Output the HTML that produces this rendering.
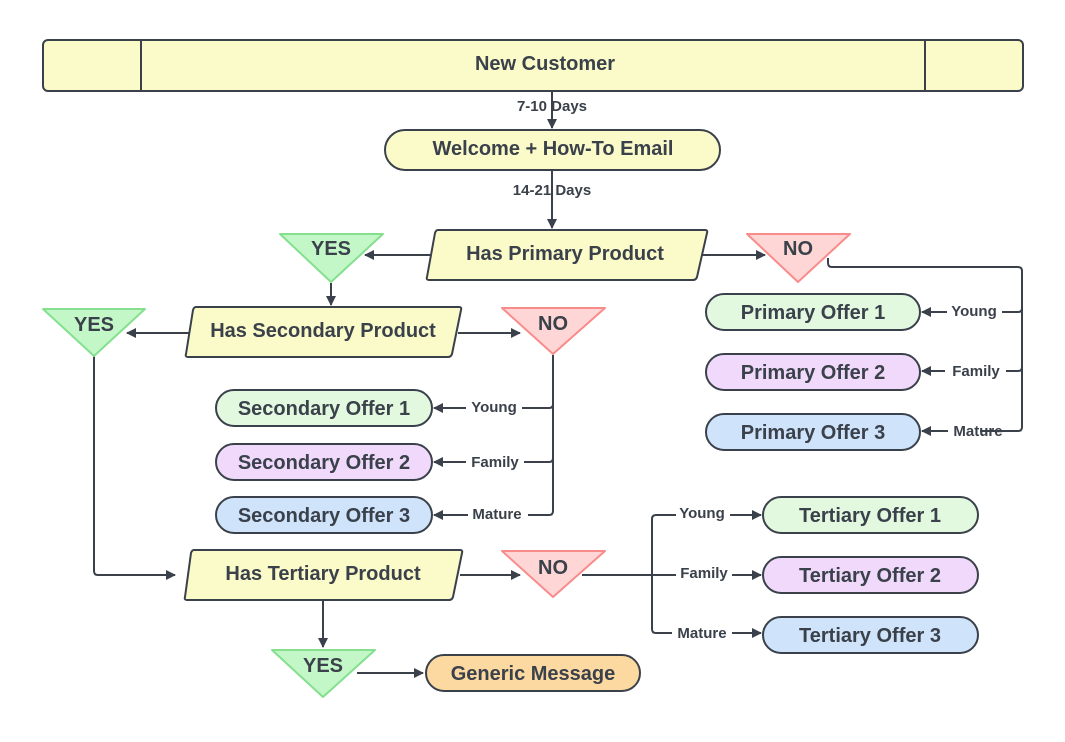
<!DOCTYPE html>
<html><head><meta charset="utf-8"><style>
html,body{margin:0;padding:0;background:#fff;}
svg text{font-family:"Liberation Sans",Arial,sans-serif;font-weight:bold;fill:#3a414a;}
</style></head><body>
<svg width="1065" height="737" viewBox="0 0 1065 737" xmlns="http://www.w3.org/2000/svg">
<defs>
<marker id="a" markerWidth="10" markerHeight="10" refX="9" refY="5" orient="auto" markerUnits="userSpaceOnUse">
<path d="M0,0 L10,5 L0,10 Z" fill="#3a414a"/></marker>
</defs>
<g stroke="#3a414a" stroke-width="2" fill="none">
<!-- connectors -->
<path d="M552,92 V128" marker-end="url(#a)"/>
<path d="M552,171 V228" marker-end="url(#a)"/>
<path d="M430,255 H365" marker-end="url(#a)"/>
<path d="M700,255 H765" marker-end="url(#a)"/>
<path d="M828,258 V263 Q828,267 832,267 H1018 Q1022,267 1022,271 V427 Q1022,431 1018,431 H980"/>
<path d="M1022,308 Q1022,312 1018,312 H1002"/>
<path d="M1022,367 Q1022,371 1018,371 H1006"/>
<path d="M947,312 H922" marker-end="url(#a)"/>
<path d="M945,371 H922" marker-end="url(#a)"/>
<path d="M948,431 H922" marker-end="url(#a)"/>
<path d="M331,283 V305" marker-end="url(#a)"/>
<path d="M190,333 H127" marker-end="url(#a)"/>
<path d="M458,333 H520" marker-end="url(#a)"/>
<path d="M553,355 V511 Q553,515 549,515 H528"/>
<path d="M553,404 Q553,408 549,408 H522"/>
<path d="M553,458 Q553,462 549,462 H524"/>
<path d="M466,408 H434" marker-end="url(#a)"/>
<path d="M466,462 H434" marker-end="url(#a)"/>
<path d="M468,515 H434" marker-end="url(#a)"/>
<path d="M94,356 V571 Q94,575 98,575 H175" marker-end="url(#a)"/>
<path d="M460,575 H520" marker-end="url(#a)"/>
<path d="M582,575 H652"/>
<path d="M676,515 H656 Q652,515 652,519 V629 Q652,633 656,633 H672"/>
<path d="M652,575 H676"/>
<path d="M730,515 H761" marker-end="url(#a)"/>
<path d="M732,575 H761" marker-end="url(#a)"/>
<path d="M732,633 H761" marker-end="url(#a)"/>
<path d="M323,601 V647" marker-end="url(#a)"/>
<path d="M357,673 H423" marker-end="url(#a)"/>
</g>
<!-- top bar -->
<rect x="43" y="40" width="980" height="51" rx="5" fill="#fbfac9" stroke="#3a414a" stroke-width="2"/>
<line x1="141" y1="40" x2="141" y2="91" stroke="#3a414a" stroke-width="2"/>
<line x1="925" y1="40" x2="925" y2="91" stroke="#3a414a" stroke-width="2"/>
<text x="545" y="70" font-size="20" text-anchor="middle">New Customer</text>
<text x="552" y="111" font-size="15" text-anchor="middle">7-10 Days</text>
<rect x="385" y="130" width="335" height="40" rx="20" fill="#fbfac9" stroke="#3a414a" stroke-width="2"/>
<text x="553" y="155" font-size="20" text-anchor="middle">Welcome + How-To Email</text>
<text x="552" y="195" font-size="15" text-anchor="middle">14-21 Days</text>
<!-- parallelograms -->
<g fill="#fbfac9" stroke="#3a414a" stroke-width="2" stroke-linejoin="round">
<path d="M438,230 H705 Q708,230 707,233 L697,277 Q696,280 693,280 H429 Q426,280 427,277 L435,233 Q436,230 438,230 Z"/>
<path d="M196,307 H459 Q462,307 461,310 L452,354 Q451,357 448,357 H188 Q185,357 186,354 L193,310 Q194,307 196,307 Z"/>
<path d="M194,550 H460 Q463,550 462,553 L453,597 Q452,600 449,600 H187 Q184,600 185,597 L191,553 Q192,550 194,550 Z"/>
</g>
<text x="565" y="260" font-size="20" text-anchor="middle">Has Primary Product</text>
<text x="323" y="337" font-size="20" text-anchor="middle">Has Secondary Product</text>
<text x="323" y="580" font-size="20" text-anchor="middle">Has Tertiary Product</text>
<!-- triangles -->
<g stroke-width="2" stroke-linejoin="round">
<path d="M280,234 H383 L331,282 Z" fill="#c3f7c8" stroke="#84e08e"/>
<path d="M43,309 H145 L94,356 Z" fill="#c3f7c8" stroke="#84e08e"/>
<path d="M272,650 H375 L323,697 Z" fill="#c3f7c8" stroke="#84e08e"/>
<path d="M747,234 H850 L798,282 Z" fill="#ffd6d6" stroke="#f98b8b"/>
<path d="M502,308 H605 L553,354 Z" fill="#ffd6d6" stroke="#f98b8b"/>
<path d="M502,551 H605 L553,597 Z" fill="#ffd6d6" stroke="#f98b8b"/>
</g>
<g font-size="20" text-anchor="middle">
<text x="331" y="255" style="font-size:20px" text-anchor="middle">YES</text>
<text x="94" y="331" text-anchor="middle" style="font-size:20px">YES</text>
<text x="323" y="672" text-anchor="middle" style="font-size:20px">YES</text>
<text x="798" y="255" text-anchor="middle" style="font-size:20px">NO</text>
<text x="553" y="330" text-anchor="middle" style="font-size:20px">NO</text>
<text x="553" y="574" text-anchor="middle" style="font-size:20px">NO</text>
</g>
<!-- offers -->
<g stroke="#3a414a" stroke-width="2">
<rect x="706" y="294" width="214" height="36" rx="18" fill="#e2f9e0"/>
<rect x="706" y="354" width="214" height="36" rx="18" fill="#f0d9fa"/>
<rect x="706" y="414" width="214" height="36" rx="18" fill="#cfe3fb"/>
<rect x="216" y="390" width="216" height="36" rx="18" fill="#e2f9e0"/>
<rect x="216" y="444" width="216" height="36" rx="18" fill="#f0d9fa"/>
<rect x="216" y="497" width="216" height="36" rx="18" fill="#cfe3fb"/>
<rect x="763" y="497" width="215" height="36" rx="18" fill="#e2f9e0"/>
<rect x="763" y="557" width="215" height="36" rx="18" fill="#f0d9fa"/>
<rect x="763" y="617" width="215" height="36" rx="18" fill="#cfe3fb"/>
<rect x="426" y="655" width="214" height="36" rx="18" fill="#fcd9a0"/>
</g>
<g font-size="20" text-anchor="middle">
<text x="813" y="319" style="font-size:20px">Primary Offer 1</text>
<text x="813" y="379" style="font-size:20px">Primary Offer 2</text>
<text x="813" y="439" style="font-size:20px">Primary Offer 3</text>
<text x="324" y="415" style="font-size:20px">Secondary Offer 1</text>
<text x="324" y="469" style="font-size:20px">Secondary Offer 2</text>
<text x="324" y="522" style="font-size:20px">Secondary Offer 3</text>
<text x="870" y="522" style="font-size:20px">Tertiary Offer 1</text>
<text x="870" y="582" style="font-size:20px">Tertiary Offer 2</text>
<text x="870" y="642" style="font-size:20px">Tertiary Offer 3</text>
<text x="533" y="680" style="font-size:20px">Generic Message</text>
</g>
<g text-anchor="middle">
<text x="974" y="316" font-size="15">Young</text>
<text x="976" y="376" font-size="15">Family</text>
<text x="978" y="436" font-size="15">Mature</text>
<text x="494" y="412" font-size="15">Young</text>
<text x="495" y="467" font-size="15">Family</text>
<text x="497" y="519" font-size="15">Mature</text>
<text x="702" y="518" font-size="15">Young</text>
<text x="704" y="578" font-size="15">Family</text>
<text x="702" y="638" font-size="15">Mature</text>
</g>
</svg>
</body></html>
